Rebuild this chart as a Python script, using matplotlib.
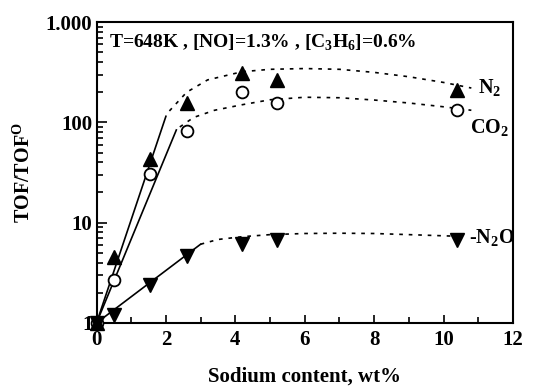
import matplotlib
matplotlib.use("Agg")
import matplotlib.pyplot as plt
from matplotlib.ticker import FixedLocator, NullFormatter, LogLocator

plt.rcParams['font.family'] = ['Liberation Serif', 'DejaVu Serif']
plt.rcParams['font.weight'] = 'bold'
plt.rcParams['mathtext.fontset'] = 'custom'
plt.rcParams['mathtext.rm'] = 'Liberation Serif:bold'
plt.rcParams['mathtext.bf'] = 'Liberation Serif:bold'

# measured points
x_pts = [0, 0.5, 1.55, 2.6, 4.2, 5.2, 10.4]
n2 = [1, 4.5, 43, 156, 311, 263, 209]
co2 = [1, 2.7, 30.5, 82, 199, 156, 132]
n2o = [1, 1.2, 2.4, 4.65, 6.1, 6.7, 6.7]

# guide curves (solid part and dotted part)
n2_solid_x = [0, 2.0]
n2_solid_y = [1, 115]
n2_dot_x = [2.1, 2.6, 3.2, 4.2, 5.0, 6.0, 7.0, 8.0, 9.0, 10.0, 10.8]
n2_dot_y = [130, 200, 265, 320, 338, 344, 338, 315, 285, 250, 220]

co2_solid_x = [0, 2.3]
co2_solid_y = [1, 84]
co2_dot_x = [2.4, 2.8, 3.4, 4.2, 5.0, 6.0, 7.0, 8.0, 9.0, 10.0, 10.8]
co2_dot_y = [90, 112, 132, 150, 168, 178, 176, 167, 156, 143, 132]

n2o_solid_x = [0, 3.0]
n2o_solid_y = [1, 6.1]
n2o_dot_x = [3.0, 3.5, 4.2, 5.0, 6.0, 7.0, 8.0, 9.0, 10.0, 10.5]
n2o_dot_y = [6.1, 6.8, 7.25, 7.6, 7.8, 7.85, 7.8, 7.6, 7.4, 7.3]

x_ticks = [0, 2, 4, 6, 8, 10, 12]
y_ticks = [1, 10, 100, 1000]
y_ticklabels = ['1', '10', '100', '1.000']

fig = plt.figure(figsize=(5.44, 3.87), dpi=100)
ax = fig.add_axes([0.1774, 0.1654, 0.943 - 0.1774, 0.943 - 0.1654])

dot = (0, (2.2, 3.5))
lw = 1.2
ax.plot(n2_solid_x, n2_solid_y, color='black', lw=lw)
ax.plot(n2_dot_x, n2_dot_y, color='black', lw=lw, linestyle=dot)
ax.plot(co2_solid_x, co2_solid_y, color='black', lw=lw)
ax.plot(co2_dot_x, co2_dot_y, color='black', lw=lw, linestyle=dot)
ax.plot(n2o_solid_x, n2o_solid_y, color='black', lw=lw)
ax.plot(n2o_dot_x, n2o_dot_y, color='black', lw=lw, linestyle=dot)

ax.plot(x_pts, co2, linestyle='none', marker='o', ms=8.5, mfc='white',
        mec='black', mew=1.3, clip_on=False, zorder=5)
ax.plot(x_pts, n2, linestyle='none', marker='^', ms=9.5, color='black',
        clip_on=False, zorder=6)
ax.plot(x_pts, n2o, linestyle='none', marker='v', ms=9.5, color='black',
        clip_on=False, zorder=6)

ax.set_yscale('log')
ax.set_xlim(0, 12)
ax.set_ylim(1, 1000)
ax.xaxis.set_major_locator(FixedLocator(x_ticks))
ax.xaxis.set_minor_locator(FixedLocator([1, 3, 5, 7, 9, 11]))
ax.yaxis.set_major_locator(FixedLocator(y_ticks))
ax.set_yticklabels(y_ticklabels)
ax.yaxis.set_minor_locator(LogLocator(base=10, subs=range(2, 10)))
ax.yaxis.set_minor_formatter(NullFormatter())

ax.tick_params(axis='both', which='both', direction='in', top=False, right=False,
               labelsize=15, width=1.2)
ax.tick_params(axis='x', which='major', length=6, pad=5)
ax.tick_params(axis='x', which='minor', length=4)
ax.tick_params(axis='y', which='major', length=7, pad=3)
ax.tick_params(axis='y', which='minor', length=4)
for lab in ax.get_xticklabels() + ax.get_yticklabels():
    lab.set_fontweight('bold')
for s in ax.spines.values():
    s.set_linewidth(1.5)

ax.set_xlabel('Sodium content, wt%', fontsize=15, fontweight='bold', labelpad=12)
ax.set_ylabel(r'TOF/TOF$^{\mathrm{O}}$', fontsize=14.5, fontweight='bold', labelpad=8)

ax.text(0.03, 0.93, r'T=648K , [NO]=1.3% , [C$_3$H$_6$]=0.6%', transform=ax.transAxes,
        fontsize=14, fontweight='bold', va='center', ha='left')
ax.text(10.98, 219, r'N$_2$', fontsize=14.5, fontweight='bold', va='center', ha='left')
ax.text(10.75, 88, r'CO$_2$', fontsize=14.5, fontweight='bold', va='center', ha='left')
ax.text(10.72, 7.0, r'-N$_2$O', fontsize=14.5, fontweight='bold', va='center', ha='left')

fig.savefig('out.png', dpi=100)
